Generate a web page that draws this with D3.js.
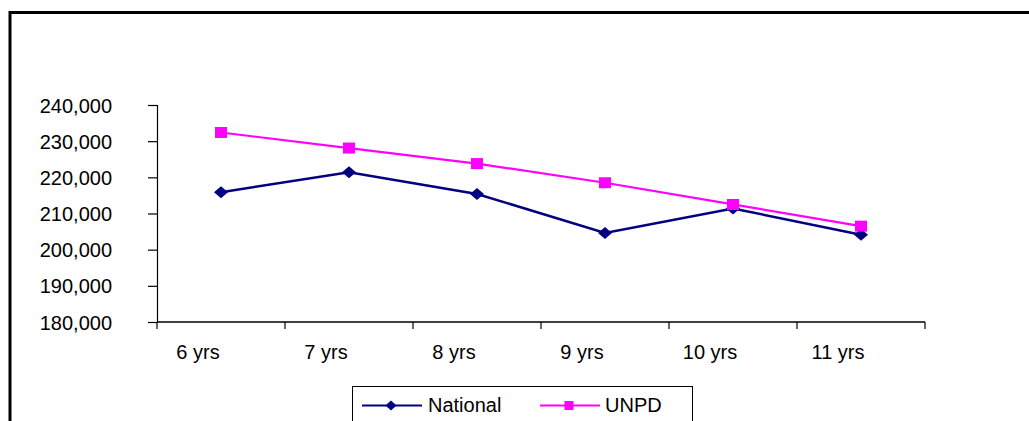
<!DOCTYPE html>
<html><head><meta charset="utf-8">
<script src="https://cdn.jsdelivr.net/npm/d3@7"></script>
<style>html,body{margin:0;padding:0;background:#fff;overflow:hidden}</style>
</head><body>
<svg id="c" width="1029" height="421"></svg>
<script>
const categories = ["6 yrs","7 yrs","8 yrs","9 yrs","10 yrs","11 yrs"];
const national = [215900, 221400, 215400, 204600, 211400, 204100];
const unpd = [232400, 228100, 223800, 218500, 212500, 206500];
const yTicks = [180000,190000,200000,210000,220000,230000,240000];
const seriesNames = ["National","UNPD"];
const seriesColors = ["#000080","#FF00FF"];

const svg = d3.select("#c");
const font = "'Liberation Sans', Arial, sans-serif";
// outer frame
svg.append("rect").attr("x",10).attr("y",12.5).attr("width",1040).attr("height",430)
  .attr("fill","none").attr("stroke","#000").attr("stroke-width",3);

const x = d3.scaleBand().domain(categories).range([157,925]);
const y = d3.scaleLinear().domain([180000,240000]).range([322,105]);

const yAxis = svg.append("g").attr("transform","translate(157,0)")
  .call(d3.axisLeft(y).tickValues(yTicks).tickSize(9).tickPadding(36).tickFormat(d3.format(",")));
yAxis.select(".domain").attr("stroke","#000").attr("stroke-width",1.2);
yAxis.selectAll(".tick line").attr("stroke","#000").attr("stroke-width",1.2);
yAxis.selectAll("text").attr("font-family",font).attr("font-size",20).attr("fill","#000").attr("dy","0.35em");

// x axis: ticks at band boundaries
const xAxisG = svg.append("g").attr("transform","translate(0,322)");
xAxisG.append("line").attr("x1",157).attr("x2",925).attr("y1",0).attr("y2",0).attr("stroke","#000").attr("stroke-width",1.5);
const bounds = categories.map(c=>x(c)).concat([x(categories[categories.length-1])+x.bandwidth()]);
xAxisG.selectAll("line.t").data(bounds).join("line").attr("class","t")
  .attr("x1",d=>d).attr("x2",d=>d).attr("y1",0).attr("y2",7).attr("stroke","#000").attr("stroke-width",1.2);
xAxisG.selectAll("text").data(categories).join("text")
  .attr("x",d=>x(d)+x.bandwidth()/2-23).attr("y",37).attr("text-anchor","middle")
  .attr("font-family",font).attr("font-size",20).attr("fill","#000").text(d=>d);

const line = d3.line().x((d,i)=>x(categories[i])+x.bandwidth()/2).y(d=>y(d));
const diamond = (cx,cy,w,h)=>`M${cx},${cy-h/2}L${cx+w/2},${cy}L${cx},${cy+h/2}L${cx-w/2},${cy}Z`;

svg.append("path").datum(unpd).attr("d",line).attr("fill","none").attr("stroke",seriesColors[1]).attr("stroke-width",2.2);
svg.append("path").datum(national).attr("d",line).attr("fill","none").attr("stroke",seriesColors[0]).attr("stroke-width",2.5);

svg.selectAll("path.nm").data(national).join("path").attr("class","nm")
  .attr("d",(d,i)=>diamond(x(categories[i])+x.bandwidth()/2,y(d),14,12)).attr("fill",seriesColors[0]);
svg.selectAll("rect.um").data(unpd).join("rect").attr("class","um")
  .attr("x",(d,i)=>x(categories[i])+x.bandwidth()/2-6).attr("y",d=>y(d)-5.5)
  .attr("width",12).attr("height",11).attr("fill",seriesColors[1]);

// legend
const lg = svg.append("g");
lg.append("rect").attr("x",352.5).attr("y",386.5).attr("width",340).attr("height",60)
  .attr("fill","#fff").attr("stroke","#000").attr("stroke-width",1);
const items = [{x0:362,tx:428},{x0:540,tx:605}];
items.forEach((it,i)=>{
  lg.append("line").attr("x1",it.x0).attr("x2",it.x0+60).attr("y1",405.5).attr("y2",405.5)
    .attr("stroke",seriesColors[i]).attr("stroke-width",2);
  const cx = it.x0+29;
  if(i===0) lg.append("path").attr("d",diamond(cx,405.5,11,10)).attr("fill",seriesColors[0]);
  else lg.append("rect").attr("x",cx-4.5).attr("y",401).attr("width",9).attr("height",9).attr("fill",seriesColors[1]);
  lg.append("text").attr("x",it.tx).attr("y",412).attr("font-family",font).attr("font-size",20)
    .attr("fill","#000").text(seriesNames[i]);
});
</script>
</body></html>
